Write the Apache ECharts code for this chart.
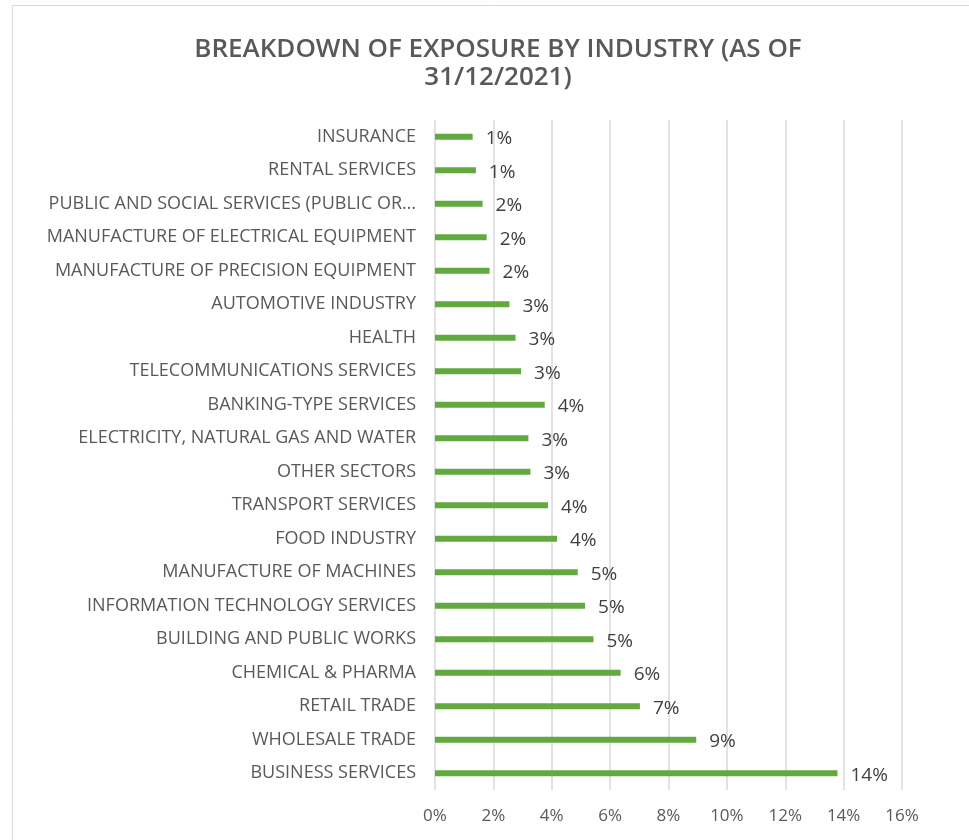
<!DOCTYPE html>
<html>
<head>
<meta charset="utf-8">
<title>Breakdown of exposure by industry</title>
<script src="https://cdn.jsdelivr.net/npm/echarts@6/dist/echarts.min.js"></script>
<style>
  html, body { margin: 0; padding: 0; background: #fff; }
  #chart { width: 969px; height: 840px; }
</style>
</head>
<body>
<div id="chart"></div>
<script>
// categories, top to bottom as shown
const industries = [
  "INSURANCE",
  "RENTAL SERVICES",
  "PUBLIC AND SOCIAL SERVICES (PUBLIC OR…",
  "MANUFACTURE OF ELECTRICAL EQUIPMENT",
  "MANUFACTURE OF PRECISION EQUIPMENT",
  "AUTOMOTIVE INDUSTRY",
  "HEALTH",
  "TELECOMMUNICATIONS SERVICES",
  "BANKING-TYPE SERVICES",
  "ELECTRICITY, NATURAL GAS AND WATER",
  "OTHER SECTORS",
  "TRANSPORT SERVICES",
  "FOOD INDUSTRY",
  "MANUFACTURE OF MACHINES",
  "INFORMATION TECHNOLOGY SERVICES",
  "BUILDING AND PUBLIC WORKS",
  "CHEMICAL & PHARMA",
  "RETAIL TRADE",
  "WHOLESALE TRADE",
  "BUSINESS SERVICES"
];

// exposure share in %
const exposure = [
  1.29, 1.40, 1.63, 1.77, 1.87, 2.55, 2.76, 2.95, 3.76, 3.20,
  3.27, 3.87, 4.18, 4.89, 5.14, 5.43, 6.36, 7.02, 8.95, 13.79
];

const xTicks = [0, 2, 4, 6, 8, 10, 12, 14, 16];

const textGray = "#595959";
const font = "Open Sans";

var myChart = echarts.init(document.getElementById("chart"));

var option = {
  animation: false,
  backgroundColor: "#fff",
  textStyle: { fontFamily: font },
  title: {
    text: "BREAKDOWN OF EXPOSURE BY INDUSTRY (AS OF\n31/12/2021)",
    left: 493,
    top: 31,
    textAlign: "center",
    textStyle: {
      fontFamily: font,
      fontSize: 26,
      fontWeight: 600,
      color: textGray,
      lineHeight: 28,
    },
  },
  graphic: [
    {
      type: "rect",
      shape: { x: 12.5, y: 5.5, width: 980, height: 860 },
      style: { fill: "none", stroke: "#d9d9d9", lineWidth: 1 },
      silent: true,
    },
  ],
  grid: {
    left: 435,
    right: 67,
    top: 120,
    bottom: 50,
  },
  xAxis: {
    type: "value",
    min: xTicks[0],
    max: xTicks[xTicks.length - 1],
    interval: 2,
    axisLine: { show: false },
    axisTick: { show: false },
    splitLine: {
      show: true,
      lineStyle: { color: "#d9d9d9", width: 1.5 },
    },
    axisLabel: {
      formatter: "{value}%",
      color: textGray,
      fontSize: 17,
      margin: 18,
    },
  },
  yAxis: {
    type: "category",
    data: industries,
    inverse: true,
    axisLine: { show: false },
    axisTick: { show: false },
    axisLabel: {
      color: textGray,
      fontSize: 18,
      margin: 19,
    },
  },
  series: [
    {
      type: "bar",
      data: exposure,
      barWidth: 6,
      itemStyle: { color: "#62a93f" },
      label: {
        show: true,
        position: "right",
        distance: 13,
        offset: [0, 2],
        color: "#404040",
        fontSize: 19,
        formatter: function (p) {
          return Math.round(p.value) + "%";
        },
      },
    },
  ],
};

myChart.setOption(option);
</script>
</body>
</html>
